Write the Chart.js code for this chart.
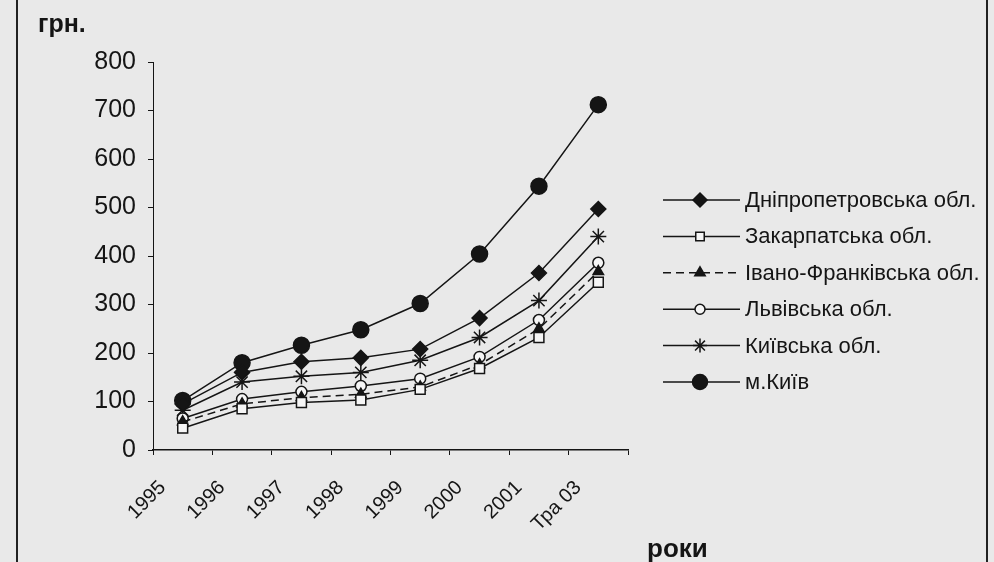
<!DOCTYPE html>
<html>
<head>
<meta charset="utf-8">
<script src="https://cdn.jsdelivr.net/npm/chart.js@4.4.1/dist/chart.umd.min.js"></script>
<style>
  html, body { margin: 0; padding: 0; background: #e9e9e9; }
  canvas { display: block; }
</style>
</head>
<body>
<canvas id="wageChart" width="994" height="562"></canvas>
<script>
// Years on the x axis
var years = ['1995', '1996', '1997', '1998', '1999', '2000', '2001', 'Тра 03'];

// Values, грн.
var dnipro = [95, 160, 182, 190, 208, 272, 365, 497];
var zakarpattia = [45, 85, 98, 103, 125, 168, 232, 346];
var ivanoFrankivsk = [58, 95, 108, 115, 130, 176, 250, 368];
var lviv = [65, 105, 120, 132, 147, 192, 268, 386];
var kyivObl = [82, 140, 152, 160, 185, 232, 308, 440];
var kyivCity = [102, 180, 216, 248, 302, 404, 544, 712];

var ink = '#151515';
var paper = '#e9e9e9';

function series(label, data, style, radius, fill, dash) {
    return {
        label: label,
        data: data,
        borderColor: ink,
        borderWidth: 1.5,
        borderDash: dash || [],
        tension: 0,
        pointStyle: style,
        pointRadius: radius,
        pointHoverRadius: radius,
        pointBackgroundColor: fill,
        pointBorderColor: ink,
        pointBorderWidth: 1.5
    };
}

// Background, page edges and the custom legend (line + marker + label)
var pagePlugin = {
    id: 'page',
    beforeDraw: function (chart) {
        var ctx = chart.ctx;
        ctx.save();
        ctx.fillStyle = paper;
        ctx.fillRect(0, 0, chart.width, chart.height);
        ctx.restore();
    },
    afterDraw: function (chart) {
        var ctx = chart.ctx;
        ctx.save();
        // page edges
        ctx.fillStyle = '#222';
        ctx.fillRect(16, 0, 2, chart.height);
        ctx.fillRect(986, 0, 2, chart.height);

        // axis titles
        ctx.fillStyle = ink;
        ctx.font = 'bold 25px "Liberation Sans", Arial, sans-serif';
        ctx.textBaseline = 'alphabetic';
        ctx.fillText('грн.', 38, 32);
        ctx.font = 'bold 26px "Liberation Sans", Arial, sans-serif';
        ctx.fillText('роки', 647, 557);

        // legend
        var legendSizes = [7, 6, 6, 5, 7, 7.5];
        chart.data.datasets.forEach(function (ds, i) {
            var y = 200 + i * 36.4;
            ctx.strokeStyle = ink;
            ctx.lineWidth = 1.5;
            ctx.setLineDash(ds.borderDash || []);
            ctx.beginPath();
            ctx.moveTo(663, y);
            ctx.lineTo(740, y);
            ctx.stroke();
            ctx.setLineDash([]);
            ctx.fillStyle = ds.pointBackgroundColor;
            Chart.helpers.drawPoint(ctx, {
                pointStyle: ds.pointStyle,
                radius: legendSizes[i],
                rotation: 0,
                borderWidth: 1.5
            }, 700, y);
            ctx.fillStyle = ink;
            ctx.font = '22px "Liberation Sans", Arial, sans-serif';
            ctx.textBaseline = 'middle';
            ctx.fillText(ds.label, 745, y + 1);
        });
        ctx.restore();
    }
};

var ctx = document.getElementById('wageChart').getContext('2d');
new Chart(ctx, {
    type: 'line',
    data: {
        labels: years,
        datasets: [
            series('Дніпропетровська обл.', dnipro, 'rectRot', 7.5, ink),
            series('Закарпатська обл.', zakarpattia, 'rect', 7, '#f6f6f6'),
            series('Івано-Франківська обл.', ivanoFrankivsk, 'triangle', 6, ink, [8, 5]),
            series('Львівська обл.', lviv, 'circle', 5.5, '#f6f6f6'),
            series('Київська обл.', kyivObl, 'star', 8, ink),
            series('м.Київ', kyivCity, 'circle', 8, ink)
        ]
    },
    options: {
        responsive: false,
        animation: false,
        layout: {
            padding: { top: 62, right: 366, left: 0, bottom: 0 }
        },
        scales: {
            x: {
                offset: true,
                grid: {
                    display: true,
                    offset: true,
                    drawOnChartArea: false,
                    drawTicks: true,
                    tickLength: 5,
                    color: ink
                },
                border: { display: true, color: ink, width: 1.5 },
                ticks: {
                    color: ink,
                    maxRotation: 45,
                    minRotation: 45,
                    padding: 21,
                    labelOffset: -20,
                    font: { family: '"Liberation Sans", Arial, sans-serif', size: 20 }
                },
                afterFit: function (scale) { scale.height = 112; }
            },
            y: {
                min: 0,
                max: 800,
                ticks: {
                    stepSize: 100,
                    color: ink,
                    padding: 12,
                    font: { family: '"Liberation Sans", Arial, sans-serif', size: 25 }
                },
                grid: {
                    display: true,
                    drawOnChartArea: false,
                    drawTicks: true,
                    tickLength: 5,
                    color: ink
                },
                border: { display: true, color: ink, width: 1 },
                afterFit: function (scale) { scale.width = 153; }
            }
        },
        plugins: {
            legend: { display: false },
            tooltip: { enabled: false }
        }
    },
    plugins: [pagePlugin]
});
</script>
</body>
</html>
